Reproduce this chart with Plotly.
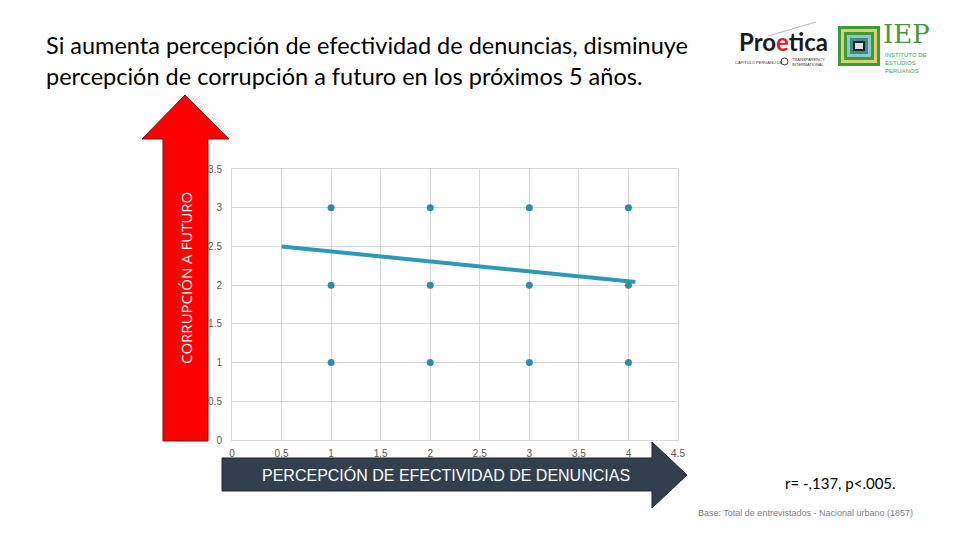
import plotly.graph_objects as go

# ---------------- data ----------------
scatter_x = [1, 1, 1, 2, 2, 2, 3, 3, 3, 4, 4, 4]
scatter_y = [1, 2, 3, 1, 2, 3, 1, 2, 3, 1, 2, 3]
trend_x = [0.5, 4.07]
trend_y = [2.5, 2.04]
x_ticks = [0, 0.5, 1, 1.5, 2, 2.5, 3, 3.5, 4, 4.5]
y_ticks = [0, 0.5, 1, 1.5, 2, 2.5, 3, 3.5]

title_text = ("Si aumenta percepción de efectividad de denuncias, disminuye<br>"
              "percepción de corrupción a futuro en los próximos 5 años.")
y_arrow_text = "CORRUPCIÓN A FUTURO"
x_arrow_text = "PERCEPCIÓN DE EFECTIVIDAD DE DENUNCIAS"
stat_text = "r= -,137, p<.005."
base_text = "Base: Total de entrevistados - Nacional urbano (1857)"

# ---------------- layout helpers (screen pixel -> paper) ----------------
OFF = 8  # default page body margin
W, H = 960, 540
L, R, T, B = 232, 678, 169, 440


def px(x):
    return (x - L) / (R - L)


def py(y):
    return (B - y) / (B - T)


def path(points):
    return "M " + " L ".join(f"{px(a):.5f},{py(b):.5f}" for a, b in points) + " Z"


fig = go.Figure()
fig.add_trace(go.Scatter(
    x=trend_x, y=trend_y, mode="lines",
    line=dict(color="#2c9ab7", width=4), hoverinfo="skip", showlegend=False))
fig.add_trace(go.Scatter(
    x=scatter_x, y=scatter_y, mode="markers",
    marker=dict(color="#2d8ca7", size=7), showlegend=False))

grid = "#d9d9d9"
tickfont = dict(family="Liberation Sans, Arial", size=10, color="#595959")
fig.update_xaxes(range=[0, 4.5], tickvals=x_ticks, ticktext=[f"{v:g}" for v in x_ticks],
                 showgrid=True, gridcolor=grid, zeroline=False, showline=True,
                 linecolor=grid, mirror=True, tickfont=tickfont, ticks="",
                 ticklabelstandoff=4)
fig.update_yaxes(range=[0, 3.5], tickvals=y_ticks, ticktext=[f"{v:g}" for v in y_ticks],
                 showgrid=True, gridcolor=grid, zeroline=False, showline=True,
                 linecolor=grid, mirror=True, tickfont=tickfont, ticks="",
                 ticklabelstandoff=7)

shapes = []
# red vertical arrow
shapes.append(dict(type="path", xref="paper", yref="paper", layer="above",
                   path=path([(163, 441), (163, 139), (142, 139), (185, 95),
                              (229, 139), (208, 139), (208, 441)]),
                   fillcolor="#ff0000", line=dict(color="#7a1010", width=1)))
# dark horizontal arrow
shapes.append(dict(type="path", xref="paper", yref="paper", layer="above",
                   path=path([(222, 458), (652, 458), (652, 442), (687, 475),
                              (652, 508), (652, 491), (222, 491)]),
                   fillcolor="#323f4f", line=dict(color="#1e2733", width=1)))
# Proetica swoosh
shapes.append(dict(type="line", xref="paper", yref="paper",
                   x0=px(768), y0=py(36), x1=px(816), y1=py(22),
                   line=dict(color="#bbbbbb", width=1.2)))
# TI globe
shapes.append(dict(type="circle", xref="paper", yref="paper",
                   x0=px(781), y0=py(58), x1=px(788), y1=py(65),
                   fillcolor="#ffffff", line=dict(color="#333333", width=1)))
# IEP logo frames
frames = [(838, 26, 880, 66, "#3f9a3a"), (841, 29, 877, 63, "#d9d26a"),
          (844, 32, 874, 60, "#3f9a3a"), (847, 35, 871, 57, "#8fc7c9"),
          (850, 38, 868, 54, "#3f8a8c"), (853, 41, 865, 51, "#222222")]
for x0, y0, x1, y1, c in frames:
    shapes.append(dict(type="rect", xref="paper", yref="paper",
                       x0=px(x0), y0=py(y0), x1=px(x1), y1=py(y1),
                       fillcolor=c, line=dict(width=0)))
shapes.append(dict(type="rect", xref="paper", yref="paper",
                   x0=px(855), y0=py(43), x1=px(863), y1=py(49),
                   fillcolor="#dddddd", line=dict(width=0)))


def ann(text, x, y, size, color, family, xanchor="center", yanchor="middle", **kw):
    return dict(text=text, xref="paper", yref="paper", x=px(x), y=py(y),
                xanchor=xanchor, yanchor=yanchor, showarrow=False,
                font=dict(family=family, size=size, color=color), **kw)


annotations = [
    ann(title_text, 44, 29, 23.5, "#000000", "Lato", xanchor="left", yanchor="top", align="left"),
    ann(y_arrow_text, 186, 278, 15, "#ffffff", "Open Sans", textangle=-90),
    ann(x_arrow_text, 446, 475, 16, "#ffffff", "Liberation Sans, Arial"),
    ann(stat_text, 840, 483, 15, "#000000", "Lato"),
    ann(base_text, 805, 513, 9, "#7f7f7f", "Liberation Sans, Arial"),
    ann("<b>Pro<span style='color:#e0202a'>e</span>tica</b>", 783, 42, 24, "#1a1a1a", "Lato"),
    ann("CAPÍTULO PERUANO DE", 759, 62, 4, "#333333", "Liberation Sans"),
    ann("TRANSPARENCY<br>INTERNATIONAL", 790, 62, 4, "#333333", "Liberation Sans",
        xanchor="left", align="left"),
    ann("IEP", 881, 34, 26, "#3f9a3a", "DejaVu Serif", xanchor="left"),
    ann("INSTITUTO DE<br>ESTUDIOS<br>PERUANOS", 883, 50, 6, "#4aa34a", "Liberation Sans",
        xanchor="left", yanchor="top", align="left"),
]

fig.update_layout(
    width=W - OFF, height=H - OFF,
    margin=dict(l=L - OFF, r=W - R, t=T - OFF, b=H - B),
    paper_bgcolor="#ffffff", plot_bgcolor="#ffffff",
    shapes=shapes, annotations=annotations, showlegend=False)

fig.write_html("out.html")
